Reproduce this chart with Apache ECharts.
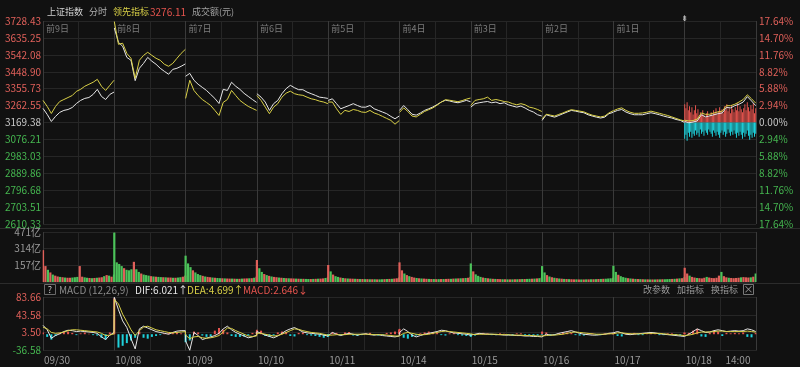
<!DOCTYPE html>
<html><head><meta charset="utf-8">
<script src="https://cdn.jsdelivr.net/npm/echarts/dist/echarts.min.js"></script>
<style>html,body{margin:0;padding:0;background:#111111;}#c{width:800px;height:367px;}</style>
</head><body><div id="c"></div>
<script>
// ---------- DATA ----------
const dates = ['09/30','10/08','10/09','10/10','10/11','10/14','10/15','10/16','10/17','10/18'];
const dayTags = ['前9日','前8日','前7日','前6日','前5日','前4日','前3日','前2日','前1日',''];
const baseClose = 3169.38;
const priceTicks = [2610.33,2703.51,2796.68,2889.86,2983.03,3076.21,3169.38,3262.55,3355.73,3448.90,3542.08,3635.25,3728.43];
const volTicks = [0,157,314,471];
const macdTicks = [-36.58,3.50,43.58,83.66];
const timeLabel = '14:00';
const timeLabelMinute = 180;

// index (white), 18 samples per day
const indexLine = [
 [3247,3214,3175,3203,3225,3236,3241,3252,3274,3291,3302,3307,3324,3352,3313,3296,3324,3337],
 [3690,3611,3589,3528,3512,3400,3468,3495,3528,3507,3490,3468,3451,3435,3462,3468,3479,3492],
 [3424,3440,3402,3380,3363,3346,3324,3302,3274,3352,3346,3391,3369,3352,3330,3313,3296,3280],
 [3328,3309,3282,3236,3273,3291,3328,3356,3374,3361,3350,3350,3337,3328,3319,3309,3306,3302],
 [3291,3300,3273,3245,3254,3263,3273,3263,3254,3254,3263,3245,3236,3227,3218,3203,3190,3205],
 [3236,3263,3240,3215,3210,3222,3236,3245,3255,3268,3282,3292,3288,3282,3278,3284,3291,3284],
 [3254,3273,3278,3282,3285,3278,3282,3273,3278,3267,3260,3254,3260,3249,3236,3227,3212,3205],
 [3181,3212,3205,3199,3208,3218,3227,3236,3232,3227,3223,3212,3205,3199,3194,3199,3218,3225],
 [3227,3236,3241,3227,3218,3212,3212,3212,3218,3223,3218,3212,3205,3199,3194,3186,3181,3170],
 [3175,3168,3172,3178,3212,3200,3206,3212,3218,3222,3252,3250,3262,3270,3282,3312,3288,3262]
];
// leading indicator (yellow)
const leadLine = [
 [3291,3258,3219,3258,3285,3296,3307,3318,3341,3352,3369,3380,3391,3407,3369,3346,3374,3402],
 [3725,3600,3606,3550,3523,3413,3512,3539,3556,3539,3523,3512,3490,3479,3495,3523,3550,3572],
 [3302,3402,3346,3318,3296,3280,3263,3236,3208,3280,3296,3346,3318,3291,3274,3258,3247,3236],
 [3318,3291,3254,3218,3254,3273,3309,3331,3342,3328,3322,3319,3309,3300,3295,3287,3282,3273],
 [3282,3282,3245,3214,3236,3230,3241,3236,3227,3225,3236,3222,3214,3203,3192,3181,3160,3180],
 [3225,3250,3230,3205,3200,3215,3230,3240,3250,3265,3282,3295,3292,3288,3284,3290,3298,3304],
 [3263,3291,3296,3300,3309,3291,3296,3291,3285,3282,3273,3267,3273,3267,3254,3249,3241,3230],
 [3190,3215,3210,3205,3214,3222,3232,3240,3236,3232,3228,3218,3210,3205,3200,3205,3222,3234],
 [3234,3244,3250,3236,3226,3220,3220,3222,3226,3232,3226,3220,3214,3208,3200,3192,3184,3178],
 [3182,3178,3180,3188,3222,3214,3215,3222,3228,3232,3262,3262,3270,3282,3296,3322,3300,3276.11]
];
// last day buy / sell force bars
const forceBuy = [18,14,20,12,16,10,15,8,12,17,9,13,6,10,8,12,7,5,9,11,6,8,10,7,12,9,14,8,11,15,10,13,9,16,12,18,11,14,9,17,13,10,15,12,19,11,16,13,10,14,18,12,20,15,11,17,13,19,9,14];
const forceSell = [-16,-12,-18,-10,-14,-9,-15,-11,-13,-8,-12,-10,-14,-7,-11,-9,-13,-8,-10,-12,-7,-9,-11,-14,-8,-10,-13,-9,-12,-15,-10,-8,-12,-9,-14,-11,-7,-10,-13,-9,-12,-8,-11,-15,-10,-13,-9,-12,-16,-10,-14,-11,-8,-13,-17,-12,-15,-10,-14,-11];
// turnover (亿), 30 samples per day
const turnover = [
 [300,150,115,90,70,60,52,48,45,42,40,40,42,45,48,150,50,44,40,38,36,38,40,42,45,55,65,60,50,70],
 [465,185,170,150,130,115,110,120,190,120,95,80,70,65,60,55,52,50,48,46,45,44,42,42,40,40,42,45,50,60],
 [248,175,140,110,90,75,65,58,52,48,45,42,40,38,36,35,34,33,32,32,31,30,30,32,33,34,35,36,40,50],
 [207,130,95,75,65,58,52,48,45,42,40,38,36,35,34,33,32,31,30,30,29,28,28,29,30,31,32,34,38,45],
 [160,100,70,55,48,42,38,35,33,32,31,30,29,28,28,27,27,26,26,26,25,25,26,27,28,29,30,32,35,42],
 [185,110,80,65,55,48,42,38,35,33,32,30,29,28,28,27,27,28,28,29,30,30,32,33,34,35,36,38,40,48],
 [175,100,72,58,48,42,38,35,32,30,29,28,27,26,26,25,25,25,26,26,27,28,28,29,30,31,32,34,36,42],
 [150,90,65,52,45,40,36,33,31,29,28,27,26,25,25,24,24,24,25,25,26,26,27,28,29,30,31,33,35,40],
 [153,95,68,55,46,40,36,33,31,29,28,27,26,25,25,24,24,24,25,25,26,26,27,28,29,30,32,34,36,44],
 [134,80,60,48,42,38,36,34,40,48,42,38,36,40,60,95,55,44,40,38,36,38,40,44,46,44,42,44,50,80]
];
const turnoverDir = [
 'rrgrgrrgrgrrgggrrggrgrgrrgrgrg',
 'ggggrgggrggrgggrgrggrgrrgrggrr',
 'gggrgggrgrrgrggrgrrgrgrgrrgrgr',
 'rggrgrgrrgrgrgrrgrgrggrgrgrrgg',
 'rgrggrgrgrrgrgrgrgrgrggrgrgrrg',
 'rrgrgrrgrgrrgrgrgrgrrgrgrgrgrr',
 'grgggrgrgrgrrgrgrgrgrgrggrgrgr',
 'ggrgrgrgrgrgrrgrgrgrgrgrgrgggr',
 'ggrgggrgrgrgrgrgrgrgrgggrgrgrg',
 'rrgrrgrrrgrrrrrgrrgrrrrgrrrgrg'
];
// MACD (12,26,9), 18 samples per day
const dif = [
 [20,10,-9,-3,1,6,9,8,6,7,6,5,4,2,-6,-12,-2,4],
 [83,55,30,15,-10,-33,12,18,14,10,6,4,2,0,4,7,8,8],
 [-15,-36,4,-3,-12,-9,-6,-3,2,12,18,10,4,0,-4,-8,-6,-2],
 [6,2,-2,-5,-8,-4,2,8,12,15,10,5,3,2,1,0,-2,-4],
 [-8,4,0,-3,0,2,0,-2,0,1,-1,-2,-1,-3,-4,-5,-6,-4],
 [4,12,6,-2,-6,-3,0,2,4,6,9,8,5,3,2,1,0,-2],
 [-6,0,2,1,0,0,-1,-1,-2,-2,-2,-3,-3,-4,-4,-5,-5,-6],
 [-8,0,-2,-1,2,4,6,8,5,2,0,-1,-2,-2,-1,0,2,3],
 [4,6,3,0,-1,0,1,2,3,4,3,1,0,-1,-2,-3,-4,-5],
 [-4,0,6,12,8,4,5,8,10,8,6,7,8,7,8,12,10,6.021]
];
const dea = [
 [16,12,4,2,3,5,8,10,10,9,8,7,6,5,2,-3,-2,1],
 [78,68,45,28,10,-3,8,16,18,14,10,8,6,4,3,4,5,6],
 [-2,-10,-6,-5,-8,-9,-8,-6,-3,5,14,13,8,4,0,-4,-5,-4],
 [2,2,0,-2,-4,-3,0,4,8,12,11,8,6,4,3,2,0,-2],
 [-3,-2,-1,-1,-1,0,0,0,0,0,0,-1,-1,-1,-2,-3,-4,-4],
 [-2,2,4,2,0,-1,-1,0,2,4,6,7,6,5,4,3,2,1],
 [-1,-1,0,0,0,0,0,-1,-1,-1,-2,-2,-2,-3,-3,-3,-4,-4],
 [-4,-3,-2,-2,-1,0,2,4,5,4,3,2,1,0,0,0,1,1],
 [2,3,3,2,1,1,1,1,2,2,2,2,1,0,-1,-1,-2,-3],
 [-3,-2,0,3,5,5,5,6,7,7,6,6,6,6,6,7,6,4.699]
];
const macdHist = [
 [4,-6,-12,-4,3,5,6,3,-2,2,4,1,-2,-3,-8,-12,4,6],
 [81,-30,-26,-20,-14,-8,6,-8,-10,-6,-4,-2,2,3,4,3,2,1],
 [-18,-14,6,4,-3,-6,-5,8,14,10,4,-4,-6,-6,-5,-3,3,4],
 [10,8,-4,-6,-3,4,6,5,-4,-5,3,4,-2,-3,-4,-6,-8,-6],
 [-5,4,3,-2,4,5,-3,-4,-2,2,3,-2,-3,-2,3,4,6,10],
 [12,-8,-10,-6,-3,2,4,6,5,3,-2,-3,2,3,-2,-3,-4,-4],
 [-6,-3,2,3,2,-2,-2,2,1,-2,-3,2,2,-2,-2,-3,-3,-2],
 [6,4,-3,-2,2,3,4,3,-2,-3,-3,2,2,-2,-2,2,3,2],
 [3,-4,-5,2,2,3,-2,-2,2,3,2,-2,-2,2,2,-2,-3,4],
 [2,3,8,12,-5,-6,3,8,6,-4,3,2,3,2,4,-6,-7,2.646]
];

// ---------- STYLE ----------
const FONT = '"Noto Sans CJK SC","Noto Sans",sans-serif';
const C = {bg:'#111111', grid:'#262626', gridDay:'#3a3a3a', red:'#e5544e', green:'#3dbb4c',
  cyan:'#1fd2dc', white:'#e6e6e6', yellow:'#d9d047', label:'#9a9a9a'};
const DAYS = dates.length;
const dayX = (d,k,n) => d + k/(n-1)*(240/241);
const last = a => a[a.length-1];

const series = [];
series.push({type:'bar', xAxisIndex:0, yAxisIndex:2, stack:'force', barWidth:1, silent:true,
  itemStyle:{color:C.red}, data: forceBuy.map((v,k)=>[dayX(DAYS-1,k,forceBuy.length), v])});
series.push({type:'bar', xAxisIndex:0, yAxisIndex:2, stack:'force', barWidth:1, silent:true,
  itemStyle:{color:C.cyan}, data: forceSell.map((v,k)=>[dayX(DAYS-1,k,forceSell.length), v])});
for (let d=0; d<DAYS; d++){
  series.push({type:'line', xAxisIndex:0, yAxisIndex:0, showSymbol:false, silent:true,
    lineStyle:{width:1, color:C.white}, data: indexLine[d].map((v,k)=>[dayX(d,k,indexLine[d].length), v])});
  series.push({type:'line', xAxisIndex:0, yAxisIndex:0, showSymbol:false, silent:true,
    lineStyle:{width:1, color:C.yellow}, data: leadLine[d].map((v,k)=>[dayX(d,k,leadLine[d].length), v])});
}
const volData = [];
turnover.forEach((arr,d)=>arr.forEach((v,k)=>volData.push({value:[dayX(d,k,arr.length), v],
  itemStyle:{color: turnoverDir[d][k]==='r' ? '#e0605a' : '#4cc35a'}})));
series.push({type:'bar', xAxisIndex:2, yAxisIndex:3, barWidth:2.2, silent:true, data: volData});
const histData = [], difData = [], deaData = [];
for (let d=0; d<DAYS; d++){
  macdHist[d].forEach((v,k)=>histData.push({value:[dayX(d,k,macdHist[d].length), v], itemStyle:{color: v>=0?C.red:C.cyan}}));
  dif[d].forEach((v,k)=>difData.push([dayX(d,k,dif[d].length), v]));
  dea[d].forEach((v,k)=>deaData.push([dayX(d,k,dea[d].length), v]));
}
series.push({type:'bar', xAxisIndex:3, yAxisIndex:4, barWidth:2, silent:true, data: histData});
series.push({type:'line', xAxisIndex:3, yAxisIndex:4, showSymbol:false, silent:true, lineStyle:{width:1,color:C.white}, data: difData});
series.push({type:'line', xAxisIndex:3, yAxisIndex:4, showSymbol:false, silent:true, lineStyle:{width:1,color:C.yellow}, data: deaData});

const gridX = {left:43, right:44};
const hiddenX = (gi, extra) => Object.assign({type:'value', gridIndex:gi, min:0, max:DAYS, interval:0.5,
  axisLine:{show:false}, axisTick:{show:false}, axisLabel:{show:false},
  splitLine:{show:true, lineStyle:{color:[C.gridDay, C.grid], width:1}}}, extra||{});
const signColor = (v, ref) => { v = parseFloat(v); return Math.abs(v-ref)<1e-6 ? '#c8c8c8' : (v>ref ? '#e0605a' : '#45b650'); };

const option = {
  backgroundColor: C.bg,
  animation: false,
  grid: [
    Object.assign({top:21, height:203}, gridX),
    Object.assign({top:232, height:50}, gridX),
    Object.assign({top:297, height:53.5}, gridX),
    Object.assign({top:297, height:53.5}, gridX)
  ],
  xAxis: [
    hiddenX(0),
    {type:'value', gridIndex:0, position:'top', min:0, max:DAYS, interval:1,
     axisLine:{show:false}, axisTick:{show:false}, splitLine:{show:false},
     axisLabel:{inside:true, margin:3, align:'left', padding:[0,0,0,3], color:'#7c7c7c', fontSize:9, fontFamily:FONT,
       formatter: v => dayTags[Math.round(v)] || ''}},
    hiddenX(1),
    hiddenX(2, {axisLabel:{show:true, margin:5, align:'left', padding:[0,0,0,1], color:C.label, fontSize:10, fontFamily:FONT,
       formatter: v => (Math.abs(v-Math.round(v))<1e-6 ? (dates[Math.round(v)]||'') : '')}}),
    {type:'value', gridIndex:3, min:0, max:DAYS, axisLine:{show:false}, axisTick:{show:false}, splitLine:{show:false},
     axisLabel:{show:true, margin:5, color:C.label, fontSize:10, fontFamily:FONT,
       customValues:[DAYS-1 + timeLabelMinute/241], formatter: () => timeLabel}}
  ],
  yAxis: [
    {type:'value', gridIndex:0, position:'left', min:priceTicks[0], max:last(priceTicks),
     axisLine:{show:false}, axisTick:{show:false, customValues:priceTicks},
     splitLine:{show:true, lineStyle:{color:C.grid}},
     axisLabel:{customValues:priceTicks, margin:2, fontSize:10, fontFamily:FONT,
       formatter: v => Number(v).toFixed(2), color: v => signColor(v, baseClose)}},
    {type:'value', gridIndex:0, position:'right', min:priceTicks[0], max:last(priceTicks),
     axisLine:{show:false}, axisTick:{show:false, customValues:priceTicks}, splitLine:{show:false},
     axisLabel:{customValues:priceTicks, margin:3, fontSize:10, fontFamily:FONT,
       formatter: v => (Math.abs(v/baseClose-1)*100).toFixed(2)+'%', color: v => signColor(v, baseClose)}},
    {type:'value', gridIndex:0, show:false, min:-100, max:100},
    {type:'value', gridIndex:1, min:volTicks[0], max:last(volTicks),
     axisLine:{show:false}, axisTick:{show:false, customValues:volTicks},
     splitLine:{show:true, lineStyle:{color:C.grid}},
     axisLabel:{customValues:volTicks, margin:2, fontSize:10, fontFamily:FONT, color:C.label,
       formatter: v => Number(v) ? v+'亿' : ''}},
    {type:'value', gridIndex:2, min:macdTicks[0], max:last(macdTicks),
     axisLine:{show:false}, axisTick:{show:false, customValues:macdTicks},
     splitLine:{show:true, lineStyle:{color:C.grid}},
     axisLabel:{customValues:macdTicks, margin:2, fontSize:10, fontFamily:FONT,
       formatter: v => Number(v).toFixed(2), color: v => signColor(v, 0)}},
    {type:'value', gridIndex:3, show:false, min:0, max:1}
  ],
  graphic: [
    {type:'line', shape:{x1:0,y1:228.5,x2:800,y2:228.5}, style:{stroke:'#2c2c2c', lineWidth:1}, silent:true},
    {type:'line', shape:{x1:0,y1:283.5,x2:800,y2:283.5}, style:{stroke:'#2c2c2c', lineWidth:1}, silent:true},
    {type:'text', x:47, y:12, style:{text:'上证指数', fill:'#d0d0d0', fontSize:9, fontFamily:FONT, verticalAlign:'middle'}},
    {type:'text', x:89, y:12, style:{text:'分时', fill:'#b0b0b0', fontSize:9, fontFamily:FONT, verticalAlign:'middle'}},
    {type:'text', x:113, y:12, style:{text:'领先指标', fill:C.yellow, fontSize:9, fontFamily:FONT, verticalAlign:'middle'}},
    {type:'text', x:150, y:12, style:{text:last(last(leadLine)).toFixed(2), fill:'#e5544e', fontSize:10, fontFamily:FONT, verticalAlign:'middle'}},
    {type:'text', x:192, y:12, style:{text:'成交额(元)', fill:'#a0a0a0', fontSize:9, fontFamily:FONT, verticalAlign:'middle'}},
    {type:'text', x:684.5, y:19, style:{text:'⇟', fill:'#d0d0d0', fontSize:8, fontFamily:'DejaVu Sans', align:'center', verticalAlign:'middle'}},
    {type:'rect', shape:{x:44.5,y:284.5,width:11,height:10}, style:{fill:'none', stroke:'#6a6a6a', lineWidth:1}, silent:true},
    {type:'text', x:50, y:290, style:{text:'?', fill:'#cccccc', fontSize:9, fontFamily:FONT, align:'center', verticalAlign:'middle'}},
    {type:'text', x:59, y:290, style:{text:'MACD (12,26,9)', fill:'#8a8a8a', fontSize:10, fontFamily:FONT, verticalAlign:'middle'}},
    {type:'text', x:135, y:290, style:{text:'DIF:'+last(last(dif)).toFixed(3)+'↑', fill:'#e6e6e6', fontSize:10, fontFamily:FONT, verticalAlign:'middle'}},
    {type:'text', x:187, y:290, style:{text:'DEA:'+last(last(dea)).toFixed(3)+'↑', fill:C.yellow, fontSize:10, fontFamily:FONT, verticalAlign:'middle'}},
    {type:'text', x:243, y:290, style:{text:'MACD:'+last(last(macdHist)).toFixed(3)+'↓', fill:'#e5544e', fontSize:10, fontFamily:FONT, verticalAlign:'middle'}},
    {type:'text', x:643, y:290, style:{text:'改参数', fill:'#9a9a9a', fontSize:9, fontFamily:FONT, verticalAlign:'middle'}},
    {type:'text', x:677, y:290, style:{text:'加指标', fill:'#9a9a9a', fontSize:9, fontFamily:FONT, verticalAlign:'middle'}},
    {type:'text', x:711, y:290, style:{text:'换指标', fill:'#9a9a9a', fontSize:9, fontFamily:FONT, verticalAlign:'middle'}},
    {type:'rect', shape:{x:743.5,y:284.5,width:10,height:10}, style:{fill:'none', stroke:'#777777', lineWidth:1}, silent:true},
    {type:'text', x:748.5, y:289.5, style:{text:'×', fill:'#9a9a9a', fontSize:10, fontFamily:FONT, align:'center', verticalAlign:'middle'}}
  ],
  series: series
};
const chart = echarts.init(document.getElementById('c'), null, {renderer:'canvas'});
chart.setOption(option);
</script></body></html>
